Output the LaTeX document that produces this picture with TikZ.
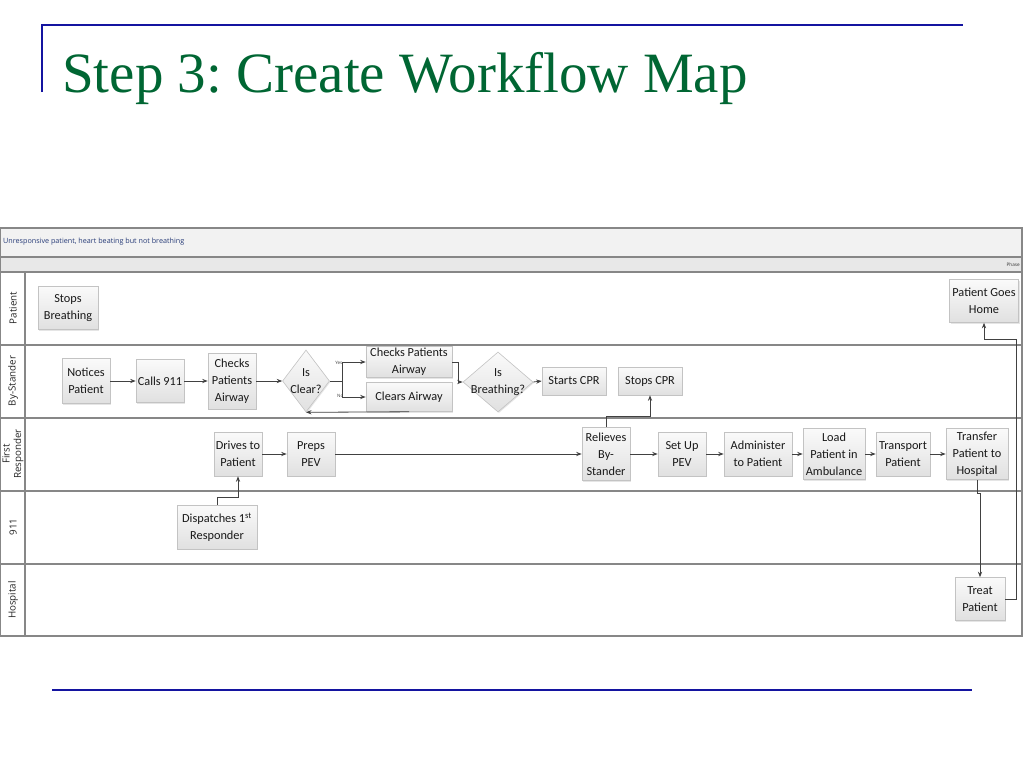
\documentclass[tikz,border=0pt]{standalone}
\usepackage{fontspec}
\setmainfont{Carlito}
\newfontfamily\titlefont{Liberation Serif}
\newfontfamily\uifont{Open Sans}
\usetikzlibrary{shapes.geometric,arrows.meta,shadows,calc}
\definecolor{titlegreen}{RGB}{0,102,51}
\definecolor{rulerblue}{RGB}{20,20,160}
\definecolor{lanegray}{RGB}{135,135,135}
\definecolor{boxborder}{RGB}{195,195,195}
\definecolor{arrowgray}{RGB}{65,65,65}
\definecolor{headblue}{RGB}{40,60,120}
\frenchspacing
\begin{document}
\begin{tikzpicture}[x=1pt,y=-1pt,
  box/.style={draw=boxborder, line width=0.6pt, top color=white!98!black, bottom color=white!88!black,
    align=center, font=\fontsize{12.3}{16.8}\selectfont, text=black!90, inner sep=0pt,
    drop shadow={shadow xshift=1pt, shadow yshift=-1pt, opacity=0.2}},
  dia/.style={diamond, draw=boxborder, line width=0.6pt, top color=white!98!black, bottom color=white!88!black,
    inner sep=0pt, drop shadow={shadow xshift=1pt, shadow yshift=-1pt, opacity=0.2}},
  diatext/.style={align=center, font=\fontsize{12.3}{16.8}\selectfont, text=black!90, inner sep=0pt},
  conn/.style={draw=arrowgray, line width=0.8pt, -{Stealth[length=5.5pt,width=4.2pt]}},
  plain/.style={draw=arrowgray, line width=0.8pt},
  lanelab/.style={rotate=90, align=center, font=\uifont\fontsize{9.8}{11.5}\selectfont, text=black!85, inner sep=0pt},
  tinylab/.style={font=\uifont\fontsize{4.5}{5}\selectfont, text=black!75, inner sep=0.5pt},
  lane/.style={draw=lanegray, line width=1.1pt}
]
\useasboundingbox (0,0) rectangle (1024,768);
\fill[white] (0,0) rectangle (1024,768);

% title and rules
\draw[rulerblue, line width=2pt] (42,92) -- (42,25) -- (963,25);
\draw[rulerblue, line width=2pt] (52,690) -- (972,690);
\node[anchor=base west, font=\titlefont\fontsize{57}{60}\selectfont, text=titlegreen, inner sep=0pt] (title) at (62,92) {Step 3: Create Workflow Map};

% swimlane frame
\fill[white!95!black] (0,228) rectangle (1022,257);
\fill[white!91!black] (0,257) rectangle (1022,272);
\draw[lane] (0,228) rectangle (1022,636);
\foreach \yy in {257,272,345,418,491,564} { \draw[lane] (0,\yy) -- (1022,\yy); }
\draw[lane] (25,272) -- (25,636);
\node[anchor=west, font=\uifont\fontsize{7.2}{8}\selectfont, text=headblue, inner sep=0pt] (scen) at (3,242) {Unresponsive patient, heart beating but not breathing};
\node[anchor=east, font=\uifont\fontsize{4.7}{5}\selectfont, text=black!80, inner sep=0pt] (phase) at (1020,264.5) {Phase};

\node[lanelab] (lpat) at (13,308) {Patient};
\node[lanelab] (lby) at (13,381) {By-Stander};
\node[lanelab] (lfr) at (13,454) {First\\Responder};
\node[lanelab] (l911) at (13,527) {911};
\node[lanelab] (lhos) at (13,600) {Hospital};

% Patient lane
\node[box, minimum width=60, minimum height=43] (stops) at (68,308) {Stops\\Breathing};
\node[box, minimum width=69, minimum height=43] (home) at (984,301) {Patient Goes\\Home};

% By-Stander lane
\node[box, minimum width=48, minimum height=45] (notices) at (86,381) {Notices\\Patient};
\node[box, minimum width=48, minimum height=43] (calls) at (160,381) {Calls 911};
\node[box, minimum width=48, minimum height=56] (checks1) at (232,381) {Checks\\Patients\\Airway};
\node[dia, minimum width=47, minimum height=62] (isclear) at (306,381) {};
\node[diatext] (isclearT) at (isclear) {Is\\Clear?};
\node[box, minimum width=86, minimum height=31] (checks2) at (409,362) {Checks Patients\\Airway};
\node[box, minimum width=86, minimum height=29] (clears) at (409,397) {Clears Airway};
\node[dia, minimum width=70, minimum height=60] (isbreath) at (498,382) {};
\node[diatext] (isbreathT) at (isbreath) {Is\\Breathing?};
\node[box, minimum width=64, minimum height=28] (startcpr) at (574,381) {Starts CPR};
\node[box, minimum width=64, minimum height=28] (stopcpr) at (650,381) {Stops CPR};

% First Responder lane
\node[box, minimum width=48, minimum height=44] (drives) at (238,454) {Drives to\\Patient};
\node[box, minimum width=48, minimum height=44] (preps) at (311,454) {Preps\\PEV};
\node[box, minimum width=48, minimum height=53] (relieves) at (606,454) {Relieves\\By-\\Stander};
\node[box, minimum width=48, minimum height=44] (setup) at (682,454) {Set Up\\PEV};
\node[box, minimum width=68, minimum height=44] (admin) at (758,454) {Administer\\to Patient};
\node[box, minimum width=62, minimum height=51] (load) at (834,454) {Load\\Patient in\\Ambulance};
\node[box, minimum width=54, minimum height=44] (transport) at (903,454) {Transport\\Patient};
\node[box, minimum width=62, minimum height=51] (transfer) at (977,454) {Transfer\\Patient to\\Hospital};

% 911 lane
\node[box, minimum width=80, minimum height=44] (dispatch) at (217,527) {Dispatches 1\textsuperscript{st}\\Responder};

% Hospital lane
\node[box, minimum width=50, minimum height=43] (treat) at (980,599) {Treat\\Patient};

% connectors
\draw[conn] (notices) -- (calls);
\draw[conn] (calls) -- (checks1);
\draw[conn] (checks1.east) -- (isclear.west);
\coordinate (jn) at (342,381);
\draw[plain] (isclear.east) -- (jn);
\draw[conn] (jn) |- (checks2.west);
\draw[conn] (jn) |- (clears.west);
\node[tinylab, anchor=south east] (yes) at (343,365) {Yes};
\node[tinylab, anchor=east] (no) at (344,396) {No};
\draw[conn] (clears.south) -- (isclear.south);
\draw[conn] (checks2.east) -- ++(6,0) |- (isbreath.west);
\draw[conn] (isbreath.east) -- (startcpr.west);

\draw[conn] (dispatch.north) -- ++(0,-7) -| (drives.south);
\draw[conn] (drives) -- (preps);
\draw[conn] (preps) -- (relieves);
\draw[conn] (relieves.north) -- ++(0,-11) -| (stopcpr.south);
\draw[conn] (relieves) -- (setup);
\draw[conn] (setup) -- (admin);
\draw[conn] (admin) -- (load);
\draw[conn] (load) -- (transport);
\draw[conn] (transport) -- (transfer);
\draw[conn] (transfer.south) -- ++(0,14) -| (treat.north);
\draw[conn] (treat.east) -- ++(11,0) |- ($(home.south)+(0,17)$) -- (home.south);
\end{tikzpicture}
\end{document}
